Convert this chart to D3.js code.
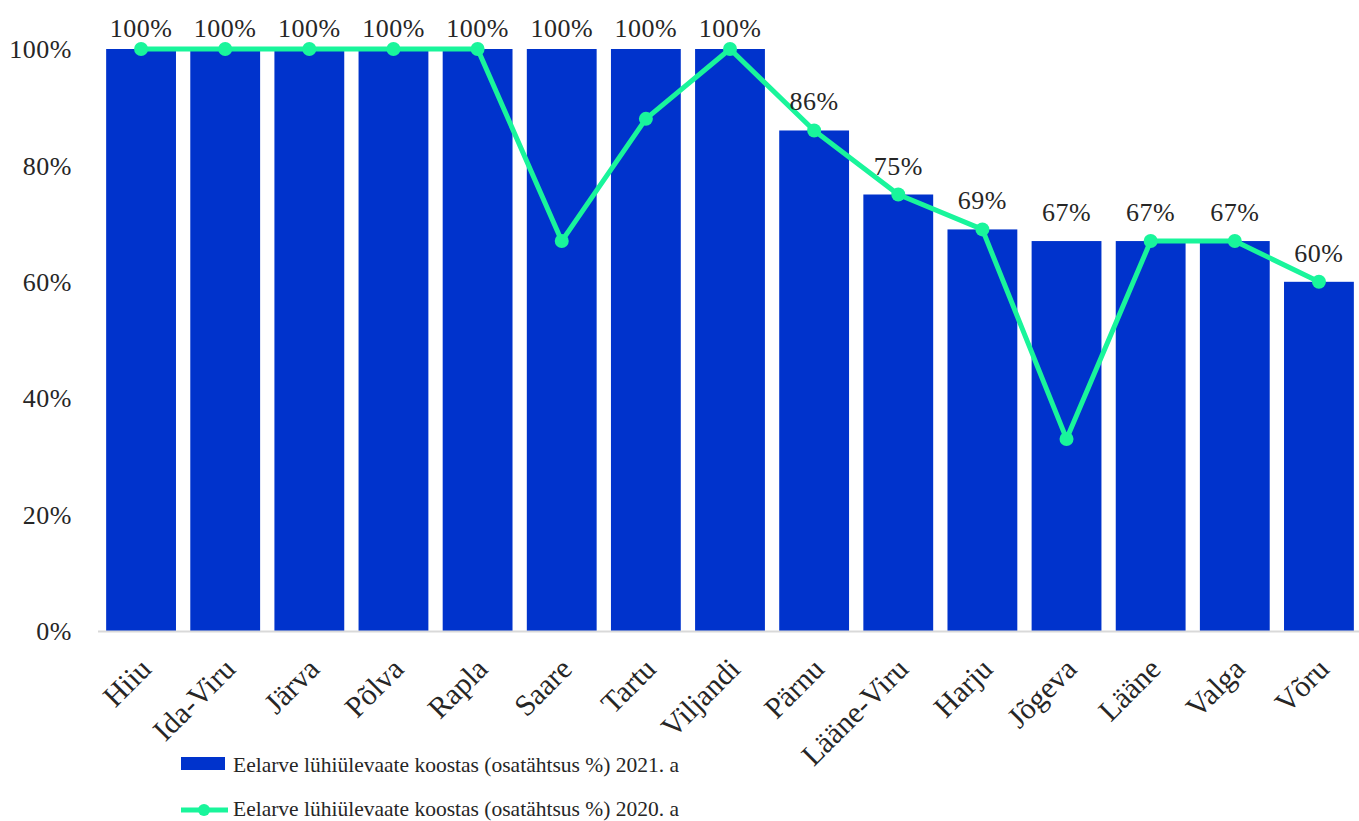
<!DOCTYPE html>
<meta charset="utf-8">
<title>Eelarve lühiülevaade</title>
<style>
  body { margin: 0; background: #fff; }
  text { font-family: "Liberation Serif", "Times New Roman", serif; fill: #262626; }
</style>
<div id="viz"></div>
<script src="https://cdnjs.cloudflare.com/ajax/libs/d3/7.8.5/d3.min.js"></script>
<script>

var counties = ["Hiiu", "Ida-Viru", "Järva", "Põlva", "Rapla", "Saare", "Tartu", "Viljandi",
  "Pärnu", "Lääne-Viru", "Harju", "Jõgeva", "Lääne", "Valga", "Võru"];
var values2021 = [100, 100, 100, 100, 100, 100, 100, 100, 86, 75, 69, 67, 67, 67, 60];
var values2020 = [100, 100, 100, 100, 100, 67, 88, 100, 86, 75, 69, 33, 67, 67, 60];
var yTicks = [0, 20, 40, 60, 80, 100];
var legendLabels = ["Eelarve lühiülevaate koostas (osatähtsus %) 2021. a",
  "Eelarve lühiülevaate koostas (osatähtsus %) 2020. a"];

var width = 1359;
var height = 821;
var barColor = "#0033cc";
var lineColor = "#19f59b";

var svg = d3.select("#viz")
  .append("svg")
  .attr("width", width)
  .attr("height", height);

var x = d3.scaleBand()
  .domain(counties)
  .range([99, 1361])
  .paddingInner(0.17)
  .paddingOuter(0.085);

var y = d3.scaleLinear()
  .domain([0, 100])
  .range([631, 49]);

// y axis labels
svg.selectAll(".ytick")
  .data(yTicks)
  .enter().append("text")
  .attr("class", "ytick")
  .attr("x", 72)
  .attr("y", function(d) { return y(d); })
  .attr("dy", "0.35em")
  .attr("text-anchor", "end")
  .style("font-size", "26px")
  .style("letter-spacing", "0.5px")
  .text(function(d) { return d + "%"; });

// bars
svg.selectAll(".bar")
  .data(counties)
  .enter().append("rect")
  .attr("class", "bar")
  .attr("x", function(d) { return x(d); })
  .attr("width", x.bandwidth())
  .attr("y", function(d, i) { return y(values2021[i]); })
  .attr("height", function(d, i) { return y(0) - y(values2021[i]); })
  .attr("fill", barColor);

// x axis line
svg.append("line")
  .attr("x1", 98).attr("x2", width)
  .attr("y1", y(0) + 0.5).attr("y2", y(0) + 0.5)
  .attr("stroke", "#d9d9d9")
  .attr("stroke-width", 2);

// line series
var cx = function(d) { return x(d) + x.bandwidth() / 2; };
var line = d3.line()
  .x(function(d, i) { return cx(counties[i]); })
  .y(function(d) { return y(d); });

svg.append("path")
  .datum(values2020)
  .attr("d", line)
  .attr("fill", "none")
  .attr("stroke", lineColor)
  .attr("stroke-width", 5)
  .attr("stroke-linejoin", "round");

svg.selectAll(".dot")
  .data(values2020)
  .enter().append("circle")
  .attr("class", "dot")
  .attr("cx", function(d, i) { return cx(counties[i]); })
  .attr("cy", function(d) { return y(d); })
  .attr("r", 7)
  .attr("fill", lineColor);

// data labels for bars (pushed down at the top edge)
svg.selectAll(".lbl")
  .data(values2021)
  .enter().append("text")
  .attr("class", "lbl")
  .attr("x", function(d, i) { return cx(counties[i]); })
  .attr("y", function(d) { return Math.max(y(d) - 20, 37); })
  .attr("text-anchor", "middle")
  .style("font-size", "26px")
  .style("letter-spacing", "0.5px")
  .text(function(d) { return d + "%"; });

// x labels
svg.selectAll(".xlbl")
  .data(counties)
  .enter().append("text")
  .attr("class", "xlbl")
  .attr("text-anchor", "end")
  .attr("transform", function(d) {
    return "translate(" + (cx(d) - 3) + "," + 656 + ") rotate(-45)";
  })
  .attr("dy", "0.7em")
  .style("font-size", "30px")
  .text(function(d) { return d; });

// legend
var lg = svg.append("g");
lg.append("rect")
  .attr("x", 181).attr("y", 757)
  .attr("width", 44).attr("height", 13)
  .attr("fill", barColor);
lg.append("text")
  .attr("x", 233).attr("y", 772)
  .style("font-size", "21.5px")
  .text(legendLabels[0]);

lg.append("line")
  .attr("x1", 181).attr("x2", 228)
  .attr("y1", 810).attr("y2", 810)
  .attr("stroke", lineColor)
  .attr("stroke-width", 5);
lg.append("circle")
  .attr("cx", 204).attr("cy", 810)
  .attr("r", 6)
  .attr("fill", lineColor);
lg.append("text")
  .attr("x", 233).attr("y", 816)
  .style("font-size", "21.5px")
  .text(legendLabels[1]);

</script>
